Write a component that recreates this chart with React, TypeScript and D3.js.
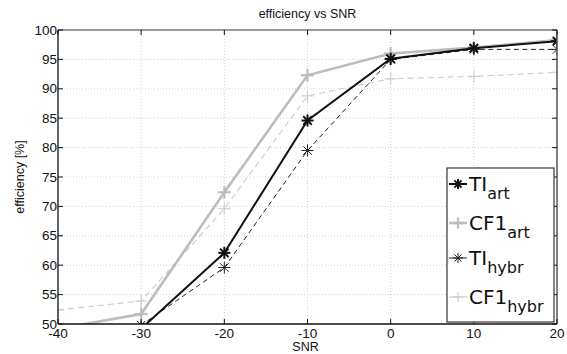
import React from "react";
import * as d3 from "d3";

const snr = [-40, -30, -20, -10, 0, 10, 20];
const tiArt = [45, 49.2, 62.1, 84.6, 95.1, 96.9, 98.1];
const cf1Art = [49.2, 51.7, 72.4, 92.3, 96.0, 97.0, 98.3];
const tiHybr = [46, 49.8, 59.6, 79.5, 95.0, 96.7, 96.7];
const cf1Hybr = [52.4, 53.9, 69.6, 88.8, 91.7, 92.1, 92.8];
const xTicks = [-40, -30, -20, -10, 0, 10, 20];
const yTicks = [50, 55, 60, 65, 70, 75, 80, 85, 90, 95, 100];

const W = 567, H = 354;
const L = 58, R = 557, T = 30, B = 324;

type Series = { name: string; sub: string; vals: number[]; color: string; width: number; dash?: string; marker: "star" | "plus"; msize: number; mwidth: number };

const series: Series[] = [
  { name: "CF1", sub: "hybr", vals: cf1Hybr, color: "#cfcfcf", width: 1.2, dash: "6,4", marker: "plus", msize: 6, mwidth: 1.2 },
  { name: "TI", sub: "hybr", vals: tiHybr, color: "#222", width: 1, dash: "5,3.5", marker: "star", msize: 6, mwidth: 1 },
  { name: "CF1", sub: "art", vals: cf1Art, color: "#bdbdbd", width: 2.6, marker: "plus", msize: 6.5, mwidth: 2.2 },
  { name: "TI", sub: "art", vals: tiArt, color: "#111", width: 2, marker: "star", msize: 6, mwidth: 2 },
];
const legendOrder = [3, 2, 1, 0];

function Marker({ kind, x, y, s, color, w }: { kind: string; x: number; y: number; s: number; color: string; w: number }) {
  const d = s * 0.707;
  return (
    <g stroke={color} strokeWidth={w} fill="none">
      <line x1={x - s} y1={y} x2={x + s} y2={y} />
      <line x1={x} y1={y - s} x2={x} y2={y + s} />
      {kind === "star" && (
        <>
          <line x1={x - d} y1={y - d} x2={x + d} y2={y + d} />
          <line x1={x - d} y1={y + d} x2={x + d} y2={y - d} />
        </>
      )}
    </g>
  );
}

export default function App() {
  const x = d3.scaleLinear().domain([-40, 20]).range([L, R]);
  const y = d3.scaleLinear().domain([50, 100]).range([B, T]);
  const line = d3.line<number>().x((_, i) => x(snr[i])).y((v) => y(v));
  const font = "'Liberation Sans', Arial, sans-serif";
  const lgX = 447, lgY = 168, lgW = 107, lgH = 154;
  const rowY = [191, 230, 265, 304];
  return (
    <svg width={W} height={H} style={{ position: "absolute", left: 0, top: 0, background: "#fff" }}>
      <rect x={0} y={0} width={W} height={H} fill="#fff" />
      <defs>
        <clipPath id="clip">
          <rect x={L} y={T} width={R - L} height={B - T} />
        </clipPath>
      </defs>
      {xTicks.slice(1, -1).map((t) => (
        <line key={"gx" + t} x1={x(t)} x2={x(t)} y1={T} y2={B} stroke="#c8c8c8" strokeWidth={0.8} strokeDasharray="1,2" />
      ))}
      {yTicks.slice(1, -1).map((t) => (
        <line key={"gy" + t} x1={L} x2={R} y1={y(t)} y2={y(t)} stroke="#c8c8c8" strokeWidth={0.8} strokeDasharray="1,2" />
      ))}
      <g clipPath="url(#clip)">
        {series.map((s, k) => (
          <g key={k}>
            <path d={line(s.vals) || ""} fill="none" stroke={s.color} strokeWidth={s.width} strokeDasharray={s.dash} />
            {s.vals.map((v, i) => (
              <Marker key={i} kind={s.marker} x={x(snr[i])} y={y(v)} s={s.msize} color={s.color} w={s.mwidth} />
            ))}
          </g>
        ))}
      </g>
      <line x1={L} x2={R} y1={T} y2={T} stroke="#777" strokeWidth={1.5} />
      <line x1={R} x2={R} y1={T} y2={B} stroke="#555" strokeWidth={1.5} />
      <line x1={L} x2={L} y1={T} y2={B} stroke="#111" strokeWidth={1.3} />
      <line x1={L} x2={R} y1={B} y2={B} stroke="#111" strokeWidth={1.3} />
      {xTicks.map((t) => (
        <g key={"xt" + t}>
          <line x1={x(t)} x2={x(t)} y1={B} y2={B - 5} stroke="#111" />
          <line x1={x(t)} x2={x(t)} y1={T} y2={T + 5} stroke="#111" />
          <text x={x(t)} y={B + 14} textAnchor="middle" fontFamily={font} fontSize={13.5} fill="#111">{t}</text>
        </g>
      ))}
      {yTicks.map((t) => (
        <g key={"yt" + t}>
          <line x1={L} x2={L + 5} y1={y(t)} y2={y(t)} stroke="#111" />
          <line x1={R} x2={R - 5} y1={y(t)} y2={y(t)} stroke="#111" />
          <text x={L - 1} y={y(t) + 4.5} textAnchor="end" fontFamily={font} fontSize={13.5} fill="#111">{t}</text>
        </g>
      ))}
      <text x={(L + R) / 2} y={18} textAnchor="middle" fontFamily={font} fontSize={12.5} fill="#111">efficiency vs SNR</text>
      <text x={(L + R) / 2 - 2} y={351} textAnchor="middle" fontFamily={font} fontSize={12.5} fill="#111">SNR</text>
      <text transform={`translate(24,${(T + B) / 2}) rotate(-90)`} textAnchor="middle" fontFamily={font} fontSize={12.5} fill="#111">efficiency [%]</text>
      <rect x={lgX} y={lgY} width={lgW} height={lgH} fill="#fff" stroke="#444" strokeWidth={1.3} />
      {legendOrder.map((si, r) => {
        const s = series[si];
        const cy = rowY[r] - 7;
        return (
          <g key={"lg" + r}>
            <line x1={lgX + 2} x2={lgX + 20} y1={cy} y2={cy} stroke={s.color} strokeWidth={s.width} />
            <Marker kind={s.marker} x={lgX + 11} y={cy} s={s.msize * 0.85} color={s.color} w={s.mwidth} />
            <text x={lgX + 22} y={rowY[r]} fontFamily="'DejaVu Sans', sans-serif" fontSize={20} fill="#111">
              {s.name}
              <tspan fontSize={16} dy={8}>{s.sub}</tspan>
            </text>
          </g>
        );
      })}
    </svg>
  );
}
